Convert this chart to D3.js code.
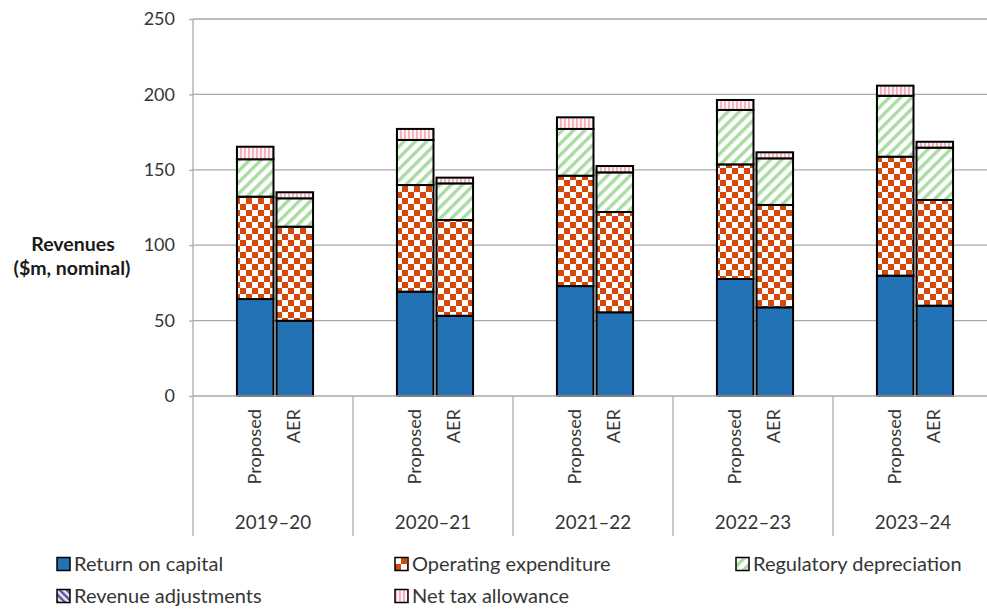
<!DOCTYPE html>
<html>
<head>
<meta charset="utf-8">
<script src="https://cdn.jsdelivr.net/npm/d3@7"></script>
<style>
  html, body { margin: 0; padding: 0; background: #fff; }
  svg { display: block; font-family: Lato, "Open Sans", sans-serif; }
</style>
</head>
<body>
<svg id="chart" width="987" height="610"></svg>
<script>
// Revenue building blocks, $m nominal. Each pair is [Proposed, AER] for a year.
const years = ["2019–20", "2020–21", "2021–22", "2022–23", "2023–24"];
const scenarios = ["Proposed", "AER"];
const returnOnCapital      = [[64.3, 49.9], [69.2, 53.2], [72.9, 55.5], [77.6, 58.8], [79.8, 59.9]];
const operatingExpenditure = [[67.9, 62.4], [70.7, 63.5], [73.2, 66.5], [76.0, 67.9], [78.9, 70.1]];
const regulatoryDepreciation = [[24.8, 18.8], [29.9, 24.3], [31.0, 26.3], [36.1, 30.9], [40.4, 34.7]];
const revenueAdjustments   = [[0, 0], [0, 0], [0, 0], [0, 0], [0, 0]];
const netTaxAllowance      = [[8.3, 4.0], [7.3, 3.8], [7.7, 4.2], [6.6, 4.0], [6.7, 3.9]];
const yTicks = [0, 50, 100, 150, 200, 250];

const seriesNames = ["Return on capital", "Operating expenditure", "Regulatory depreciation",
                     "Revenue adjustments", "Net tax allowance"];
const seriesValues = [returnOnCapital, operatingExpenditure, regulatoryDepreciation,
                      revenueAdjustments, netTaxAllowance];
const seriesKeys = ["roc", "opex", "dep", "adj", "tax"];

const svg = d3.select("#chart");
const textColor = "#363636";
const gridColor = "#a9a9a9";

// ---- fill patterns ----
const defs = svg.append("defs");

const pOpex = defs.append("pattern").attr("id", "fill-opex")
  .attr("patternUnits", "userSpaceOnUse").attr("width", 12).attr("height", 12);
pOpex.append("rect").attr("width", 12).attr("height", 12).attr("fill", "#fff");
pOpex.append("rect").attr("width", 6).attr("height", 6).attr("fill", "#d4490a");
pOpex.append("rect").attr("x", 6).attr("y", 6).attr("width", 6).attr("height", 6).attr("fill", "#d4490a");

const pDep = defs.append("pattern").attr("id", "fill-dep")
  .attr("patternUnits", "userSpaceOnUse").attr("width", 8).attr("height", 8)
  .attr("patternTransform", "rotate(45)");
pDep.append("rect").attr("width", 8).attr("height", 8).attr("fill", "#fff");
pDep.append("rect").attr("width", 3.4).attr("height", 8).attr("fill", "#a9dca1");

const pAdj = defs.append("pattern").attr("id", "fill-adj")
  .attr("patternUnits", "userSpaceOnUse").attr("width", 5).attr("height", 5)
  .attr("patternTransform", "rotate(-45)");
pAdj.append("rect").attr("width", 5).attr("height", 5).attr("fill", "#ece9f6");
pAdj.append("rect").attr("width", 2.4).attr("height", 5).attr("fill", "#5b4d9e");

const pTax = defs.append("pattern").attr("id", "fill-tax")
  .attr("patternUnits", "userSpaceOnUse").attr("width", 4).attr("height", 4);
pTax.append("rect").attr("width", 4).attr("height", 4).attr("fill", "#fff2f4");
pTax.append("rect").attr("width", 1.8).attr("height", 4).attr("fill", "#f5adb9");

const fills = {
  roc: "#2372b6",
  opex: "url(#fill-opex)",
  dep: "url(#fill-dep)",
  adj: "url(#fill-adj)",
  tax: "url(#fill-tax)"
};

// ---- scales ----
const plot = { left: 193, right: 993, top: 19, bottom: 396 };
const y = d3.scaleLinear().domain([0, 250]).range([plot.bottom, plot.top]);
const x0 = d3.scaleBand().domain(years).range([plot.left, plot.right]).paddingInner(0).paddingOuter(0);
const x1 = d3.scaleBand().domain(scenarios).range([2, x0.bandwidth() + 2])
  .paddingInner(0.076).paddingOuter(1.06);

// ---- gridlines ----
svg.append("g").selectAll("line").data(yTicks.filter(t => t > 0)).join("line")
  .attr("x1", plot.left).attr("x2", plot.right)
  .attr("y1", d => y(d)).attr("y2", d => y(d))
  .attr("stroke", gridColor).attr("stroke-width", 1.3);

// ---- stacked bars ----
const rows = [];
years.forEach((yr, i) => {
  scenarios.forEach((sc, j) => {
    const row = { year: yr, scenario: sc };
    seriesKeys.forEach((k, s) => { row[k] = seriesValues[s][i][j]; });
    rows.push(row);
  });
});
const stacked = d3.stack().keys(seriesKeys)(rows);

const barLayer = svg.append("g");
stacked.forEach(layer => {
  barLayer.append("g").selectAll("rect")
    .data(layer.filter(d => d[1] - d[0] > 0))
    .join("rect")
    .attr("x", d => x0(d.data.year) + x1(d.data.scenario))
    .attr("width", x1.bandwidth())
    .attr("y", d => y(d[1]))
    .attr("height", d => y(d[0]) - y(d[1]))
    .attr("fill", fills[layer.key])
    .attr("stroke", "#000")
    .attr("stroke-width", 2);
});

// ---- y axis ----
const yAxis = d3.axisLeft(y).tickValues(yTicks).tickSize(4).tickPadding(14);
const gy = svg.append("g").attr("transform", `translate(${plot.left},0)`).call(yAxis);
gy.select(".domain").remove();
gy.selectAll(".tick line").attr("stroke", gridColor).attr("stroke-width", 1.3);
gy.selectAll(".tick text").attr("fill", textColor).attr("font-size", 18).attr("font-family", "Lato, sans-serif");

// axis lines: vertical left axis runs down through the category area
svg.append("line").attr("x1", plot.left).attr("x2", plot.left)
  .attr("y1", plot.top).attr("y2", 536).attr("stroke", gridColor).attr("stroke-width", 1.3);
svg.append("line").attr("x1", plot.left).attr("x2", plot.right)
  .attr("y1", plot.bottom).attr("y2", plot.bottom).attr("stroke", gridColor).attr("stroke-width", 1.3);

// ---- category axis: group separators, scenario labels, year labels ----
svg.append("g").selectAll("line").data(years.slice(1).concat(["end"])).join("line")
  .attr("x1", d => d === "end" ? plot.right : x0(d))
  .attr("x2", d => d === "end" ? plot.right : x0(d))
  .attr("y1", plot.bottom).attr("y2", 536)
  .attr("stroke", gridColor).attr("stroke-width", 1.3);

const catLabels = svg.append("g").attr("fill", textColor);
years.forEach(yr => {
  scenarios.forEach(sc => {
    const cx = x0(yr) + x1(sc) + x1.bandwidth() / 2 - 1;
    catLabels.append("text")
      .attr("transform", `translate(${cx},${plot.bottom + 13}) rotate(-90)`)
      .attr("text-anchor", "end").attr("dy", "0.36em")
      .attr("font-size", 18.2)
      .text(sc);
  });
  catLabels.append("text")
    .attr("x", x0(yr) + x0.bandwidth() / 2).attr("y", 529)
    .attr("text-anchor", "middle").attr("font-size", 18.8).text(yr);
});

// ---- y axis title ----
const title = svg.append("text").attr("fill", "#1a1a1a").attr("font-weight", "bold")
  .attr("font-size", 19.5).attr("text-anchor", "middle");
title.append("tspan").attr("x", 73).attr("y", 251).text("Revenues");
title.append("tspan").attr("x", 72).attr("y", 275).text("($m, nominal)");

// ---- legend ----
const legendPos = [
  { x: 57, y: 564 }, { x: 395, y: 564 }, { x: 736, y: 564 },
  { x: 57, y: 596 }, { x: 395, y: 596 }
];
const legend = svg.append("g");
seriesKeys.forEach((k, i) => {
  const g = legend.append("g").attr("transform", `translate(${legendPos[i].x},${legendPos[i].y})`);
  g.append("rect").attr("x", 0).attr("y", -6.5).attr("width", 13).attr("height", 13)
    .attr("fill", fills[k]).attr("stroke", "#000").attr("stroke-width", 1.5);
  g.append("text").attr("x", 17).attr("y", 0).attr("dy", "0.36em")
    .attr("fill", textColor).attr("font-size", 20).text(seriesNames[i]);
});
</script>
</body>
</html>
